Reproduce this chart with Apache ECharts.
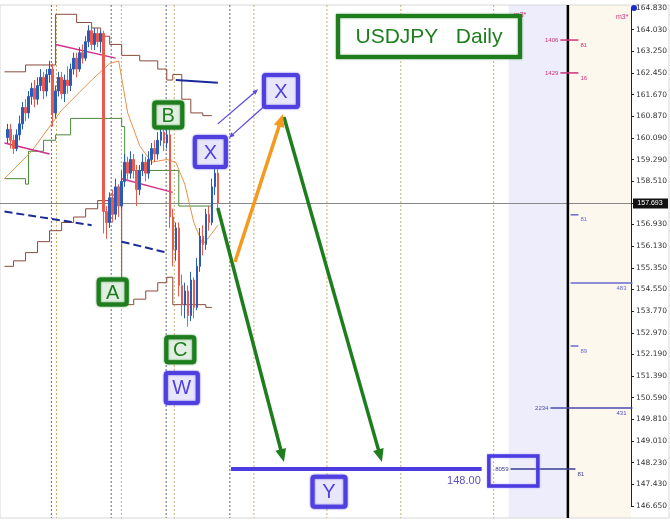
<!DOCTYPE html>
<html><head><meta charset="utf-8">
<script src="https://cdn.jsdelivr.net/npm/echarts@6/dist/echarts.min.js"></script>
<style>html,body{margin:0;padding:0;background:#fff}#c{width:670px;height:525px}</style>
</head><body><div id="c"></div>
<script>
const N = 210;
const tickLabels = ['146.650','147.430','148.230','149.010','149.810','150.590','151.390','152.190','152.970','153.770','154.550','155.350','156.130','156.930','157.693','158.510','159.290','160.090','160.870','161.670','162.450','163.250','164.030','164.830'];
const candleStart = 2;
const candles = [
[160.1,160.4,159.9,160.6],[160.4,160.0,159.7,160.6],[160.0,159.7,159.5,160.2],[159.7,160.2,159.6,160.4],
[160.2,160.6,160.0,160.9],[160.6,161.2,160.4,161.4],[161.2,161.0,160.7,161.5],[161.0,161.6,160.8,161.8],
[161.6,161.9,161.3,162.1],[161.9,161.5,161.2,162.2],[161.5,162.0,161.3,162.3],[162.0,162.3,161.8,162.6],
[162.3,161.8,161.5,162.5],[161.8,162.4,161.6,162.6],[162.4,162.6,162.1,162.9],[162.6,161.0,160.5,162.8],
[161.0,161.8,160.8,162.0],[161.8,162.3,161.6,162.5],[162.3,161.7,161.5,162.5],[161.7,162.2,161.4,162.4],
[162.2,162.0,161.7,162.7],[162.0,162.6,161.8,162.8],[162.6,163.0,162.4,163.2],[163.0,162.6,162.3,163.2],
[162.6,163.2,162.5,163.4],[163.2,163.0,162.8,163.5],[163.0,163.6,162.9,163.8],[163.6,164.0,163.4,164.2],
[164.0,163.5,163.3,164.1],[163.5,163.9,163.3,164.1],[163.9,163.6,163.4,164.1],[163.6,163.9,163.2,164.0],
[163.9,157.4,156.6,164.0],[157.4,157.0,156.4,157.6],[157.0,157.9,156.8,158.1],[157.9,157.3,157.0,158.2],
[157.3,158.3,157.1,158.6],[158.3,157.6,157.2,158.4],[157.6,158.5,157.5,158.9],[158.5,159.2,158.3,159.5],
[159.2,158.8,158.5,159.4],[158.8,159.3,158.6,159.6],[159.3,158.9,158.6,159.5],[158.9,158.2,157.6,159.1],
[158.2,158.9,158.0,159.1],[158.9,159.2,158.7,159.5],[159.2,158.8,158.5,159.4],[158.8,159.3,158.6,159.6],
[159.3,159.7,159.1,159.9],[159.7,159.5,159.2,160.0],[159.5,160.0,159.3,160.3],[160.0,160.3,159.8,160.5],
[160.3,159.9,159.6,160.5],[159.9,160.2,159.7,160.4],[160.2,157.2,156.8,160.4],[157.2,156.0,155.4,157.5],
[156.0,156.8,155.6,157.0],[156.8,154.7,154.3,157.0],[154.7,154.0,153.6,155.1],[154.0,154.5,153.5,154.8],
[154.5,153.6,153.2,154.7],[153.6,154.9,153.4,155.2],[154.9,153.9,153.5,155.0],[153.9,155.4,153.8,155.7],
[155.4,156.5,155.2,156.8],[156.5,156.2,155.8,156.9],[156.2,157.3,156.0,157.5],[157.3,157.0,156.7,157.6],
[157.0,158.3,156.9,158.6],[158.3,158.8,158.0,159.1],[158.8,157.7,157.5,159.0]
];
const upperBand = [[1,162.5],[8,162.75],[17,162.75],[18,164.6],[25,164.3],[30,164.1],[33,163.8],[36,163.5],[40,163.1],[46,162.9],[52,162.6],[55,162.2],[57,162.4],[60,161.5],[63,161.0],[67,160.9],[70,160.9]];
const lowerBand = [[1,155.4],[4,155.6],[8,155.9],[12,156.3],[16,156.7],[20,157.0],[24,157.2],[28,157.5],[32,157.8],[36,158.0],[40,154.0],[44,154.2],[48,154.5],[52,154.8],[55,155.0],[57,154.0],[63,154.0],[68,153.9],[70,153.9]];
const greenStep = [[1,158.6],[8,158.4],[9,159.6],[14,160.0],[18,160.2],[23,160.8],[40,160.5],[41,158.9],[57,158.9],[59,157.6],[70,157.6]];
const maLine = [[1,158.6],[10,159.6],[20,161.1],[30,162.2],[36,162.8],[39,162.9],[42,161.0],[46,159.8],[50,159.2],[55,159.3],[58,159.2],[61,158.4],[64,157.0],[67,156.2],[70,156.6],[72,156.9]];
const magentaA = [[1,159.9],[16,159.5]], magentaB = [[18,163.5],[38,163.0]], magentaC = [[40,158.6],[57,158.1]];
const navyA = [[1,157.4],[30,156.9]], navyB = [[40,156.3],[55,155.9]], navyC = [[58,162.2],[72,162.1]];
const lastPrice = 157.693;
const targetPrice = 148.00;
const darkVLines = [16.6,36.5,54.8,76];
const yellowVLines = [18.3,39.9,57.5,84,108.3,132.9,163.8];
const boxesGreen = [{t:'A',i:37,p:154.46},{t:'B',i:55.5,p:160.92},{t:'C',i:59.5,p:152.35}];
const boxesBlue = [{t:'W',i:60,p:150.96,w:32,h:30},{t:'X',i:69.5,p:159.57,w:31,h:30},{t:'X',i:93,p:161.8,w:34,h:32},{t:'Y',i:109,p:147.17,w:33,h:30}];
const levels = [
 {p:163.66,a:186,b:192,c:'#d0307a',l:'1406',r:'81'},{p:162.46,a:186,b:192,c:'#d0307a',l:'1429',r:'16'},
 {p:157.28,a:189.4,b:192,c:'#6a6ad0',l:'',r:'81'},{p:154.79,a:189.4,b:210,c:'#6a6ad0',l:'',r:'483'},
 {p:152.49,a:189.4,b:192,c:'#6a6ad0',l:'',r:'89'},{p:150.23,a:182.7,b:210,c:'#4a4ab0',l:'2234',r:'431'},
 {p:148.0,a:169.4,b:191,c:'#3a3a90',l:'8059',r:'81'}
];

const chart = echarts.init(document.getElementById('c'));
const cats = Array.from({length:N},(_,i)=>String(i));
const cdata = cats.map((_,i)=>{const k=i-candleStart;return (k>=0&&k<candles.length)?candles[k]:'-';});
function ln(data,color,w,step,type){return {type:'line',data:data,symbol:'none',step:step||false,lineStyle:{color:color,width:w,type:type||'solid'},silent:true,z:3};}
chart.setOption({
 animation:false,
 grid:{left:0,right:38,top:8,bottom:19},
 xAxis:{type:'category',data:cats,boundaryGap:true,axisLine:{show:false},axisTick:{show:false},axisLabel:{show:false}},
 yAxis:{type:'value',position:'right',min:146.65,max:164.83,interval:(164.83-146.65)/23,
   splitLine:{show:false},axisLine:{show:true,lineStyle:{color:'#222'}},axisTick:{show:true,length:3,lineStyle:{color:'#222'}},
   axisLabel:{fontSize:7.5,color:'#333',fontFamily:'DejaVu Sans',margin:5,formatter:(v,i)=>tickLabels[i]===lastPrice.toFixed(3)?'':tickLabels[i]}},
 series:[
  {type:'candlestick',data:cdata,barWidth:2,itemStyle:{color:'#2a5bb8',color0:'#ec5a4e',borderColor:'#2a5bb8',borderColor0:'#ec5a4e',borderWidth:1},z:5},
  ln(upperBand,'#8a4b3c',1,'end'),ln(lowerBand,'#8a4b3c',1,'end'),ln(greenStep,'#4a8a3a',1,'end'),
  ln(maLine,'#e8904a',1,false),
  ln(magentaA,'#d0308a',1.5),ln(magentaB,'#d0308a',1.5),ln(magentaC,'#d0308a',1.5),
  ln(navyA,'#1a2a9a',2,false,'dashed'),ln(navyB,'#1a2a9a',2,false,'dashed'),ln(navyC,'#1a2a9a',2)
 ]
});
const x0 = chart.convertToPixel({xAxisIndex:0},0), step=(chart.convertToPixel({xAxisIndex:0},1)-x0);
const X = i=>x0+i*step, Y = p=>chart.convertToPixel({yAxisIndex:0},p);
const g = [];
const topY=5,botY=518,rightX=X(N-0.5);
g.push({type:'rect',shape:{x:X(168.8),y:topY,width:X(188.4)-X(168.8),height:botY-topY},style:{fill:'#ededfb'},z:-1});
g.push({type:'rect',shape:{x:X(188.4),y:topY,width:rightX-X(188.4),height:botY-topY},style:{fill:'#fdf8ee'},z:-1});
g.push({type:'rect',shape:{x:0,y:topY,width:669,height:botY-topY},style:{fill:'none',stroke:'#d8d8d8',lineWidth:1},z:-1});
darkVLines.forEach(i=>g.push({type:'line',shape:{x1:X(i),y1:topY,x2:X(i),y2:botY},style:{stroke:'#666',lineWidth:1,lineDash:[2,2]},z:0}));
yellowVLines.forEach(i=>g.push({type:'line',shape:{x1:X(i),y1:topY,x2:X(i),y2:botY},style:{stroke:'#c8b070',lineWidth:1,lineDash:[2,2]},z:0}));
g.push({type:'line',shape:{x1:0,y1:Y(lastPrice),x2:rightX,y2:Y(lastPrice)},style:{stroke:'#888',lineWidth:1},z:1});
g.push({type:'line',shape:{x1:X(188.5),y1:topY,x2:X(188.5),y2:botY},style:{stroke:'#000',lineWidth:2.5},z:4});
levels.forEach(L=>{
 g.push({type:'line',shape:{x1:X(L.a),y1:Y(L.p),x2:X(L.b),y2:Y(L.p)},style:{stroke:L.c,lineWidth:1.5},z:5});
 if(L.l)g.push({type:'text',x:X(L.a)-2,y:Y(L.p),style:{text:L.l,fill:L.c,fontSize:6,align:'right',verticalAlign:'middle'},z:5});
 const full=L.b>=209;
 g.push({type:'text',x:full?X(L.b)-6:X(L.b)+2,y:Y(L.p)+5,style:{text:L.r,fill:L.c,fontSize:6,align:full?'right':'left',verticalAlign:'middle'},z:5});
});
g.push({type:'text',x:X(170.5),y:12,style:{text:'m3*',fill:'#d0307a',fontSize:7},z:5});
g.push({type:'text',x:616,y:14,style:{text:'m3*',fill:'#d0307a',fontSize:7},z:5});
g.push({type:'circle',shape:{cx:634,cy:8,r:3},style:{fill:'#1a2ad0'},z:6});
g.push({type:'rect',shape:{x:633,y:Y(lastPrice)-5,width:35,height:10},style:{fill:'#111'},z:7});
g.push({type:'text',x:650,y:Y(lastPrice),style:{text:lastPrice.toFixed(3),fill:'#fff',fontSize:7,align:'center',verticalAlign:'middle'},z:8});
g.push({type:'line',shape:{x1:X(76.4),y1:Y(targetPrice),x2:X(159.8),y2:Y(targetPrice)},style:{stroke:'#4b3be0',lineWidth:4},z:6});
g.push({type:'text',x:X(159.5),y:Y(targetPrice)+12,style:{text:targetPrice.toFixed(2),fill:'#5a50c0',fontSize:11,fontFamily:'Liberation Sans',align:'right',verticalAlign:'middle'},z:6});
g.push({type:'rect',shape:{x:X(162.2),y:Y(targetPrice)-13,width:49,height:30},style:{fill:'none',stroke:'#4b3be0',lineWidth:3.5,shadowBlur:2,shadowColor:'#a8a0ff'},z:6});
function arrow(i1,p1,i2,p2,color,w,hs){
 const ax=X(i1),ay=Y(p1),bx=X(i2),by=Y(p2);const a=Math.atan2(by-ay,bx-ax);
 const ex=bx-Math.cos(a)*hs*0.8,ey=by-Math.sin(a)*hs*0.8;
 g.push({type:'line',shape:{x1:ax,y1:ay,x2:ex,y2:ey},style:{stroke:color,lineWidth:w},z:7});
 g.push({type:'polygon',shape:{points:[[bx,by],[bx-Math.cos(a-0.4)*hs,by-Math.sin(a-0.4)*hs],[bx-Math.cos(a+0.4)*hs,by-Math.sin(a+0.4)*hs]]},style:{fill:color},z:7});
}
arrow(72,157.53,94,148.26,'#1e7e1e',3.5,14);
arrow(94,160.85,126.6,148.26,'#1e7e1e',3.5,14);
arrow(77.7,155.56,93.7,160.96,'#f59a1e',3.5,14);
arrow(72,160.6,85.4,161.86,'#5a4ae0',1.3,6);
arrow(88,161.3,75.7,160.09,'#5a4ae0',1.3,6);
function box(b,color,w,h){
 const cx=X(b.i),cy=Y(b.p);
 g.push({type:'rect',shape:{x:cx-w/2,y:cy-h/2,width:w,height:h,r:2},style:{fill:'rgba(255,255,255,0.85)',stroke:color,lineWidth:4,shadowBlur:2,shadowColor:color},z:8});
 g.push({type:'text',x:cx,y:cy+1,style:{text:b.t,fill:color,fontSize:20,fontFamily:'Liberation Sans',align:'center',verticalAlign:'middle'},z:9});
}
boxesGreen.forEach(b=>box(b,'#1e7e1e',28,25));
boxesBlue.forEach(b=>box(b,'#5040e0',b.w,b.h));
g.push({type:'rect',shape:{x:338,y:16,width:182,height:41},style:{fill:'#fff',stroke:'#1e7e1e',lineWidth:4,shadowBlur:2,shadowColor:'#1e7e1e'},z:8});
g.push({type:'text',x:429,y:37,style:{text:'USDJPY   Daily',fill:'#1e7e1e',fontSize:21,fontFamily:'Liberation Sans',align:'center',verticalAlign:'middle'},z:9});
chart.setOption({graphic:g});
</script></body></html>
